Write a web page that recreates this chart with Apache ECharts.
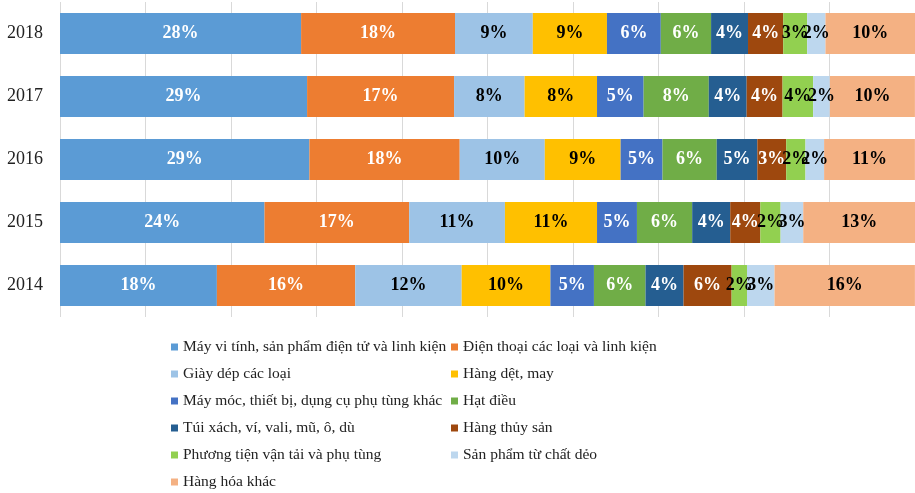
<!DOCTYPE html>
<html><head><meta charset="utf-8">
<script src="https://cdn.jsdelivr.net/npm/echarts@6/dist/echarts.min.js"></script>
<style>html,body{margin:0;padding:0;background:#fff}#c{width:915px;height:493px}</style>
</head><body><div id="c"></div>
<script>
const years = ['2014','2015','2016','2017','2018'];
const names = [
  'Máy vi tính, sản phẩm điện tử và linh kiện',
  'Điện thoại các loại và linh kiện',
  'Giày dép các loại',
  'Hàng dệt, may',
  'Máy móc, thiết bị, dụng cụ phụ tùng khác',
  'Hạt điều',
  'Túi xách, ví, vali, mũ, ô, dù',
  'Hàng thủy sản',
  'Phương tiện vận tải và phụ tùng',
  'Sản phẩm từ chất dẻo',
  'Hàng hóa khác'
];
const mayViTinh   = [18.35, 23.92, 29.17, 28.9, 28.2];
const dienThoai   = [16.18, 16.92, 17.58, 17.19, 18.0];
const giayDep     = [12.45, 11.2, 9.95, 8.25, 9.1];
const detMay      = [10.38, 10.77, 8.87, 8.47, 8.67];
const mayMoc      = [5.09, 4.67, 4.9, 5.45, 6.3];
const hatDieu     = [6.03, 6.46, 6.34, 7.62, 5.88];
const tuiXach     = [4.45, 4.45, 4.75, 4.43, 4.32];
const thuySan     = [5.62, 3.52, 3.38, 4.2, 4.12];
const phuongTien  = [1.8, 2.37, 2.25, 3.58, 2.8];
const chatDeo     = [3.22, 2.65, 2.18, 1.95, 2.14];
const hangKhac    = [16.42, 13.07, 10.62, 9.95, 10.47];

const seriesData = [mayViTinh, dienThoai, giayDep, detMay, mayMoc, hatDieu, tuiXach, thuySan, phuongTien, chatDeo, hangKhac];
const colors = ['#5B9BD5','#ED7D31','#9DC3E6','#FFC000','#4472C4','#70AD47','#255E91','#9E480E','#92D050','#BDD7EE','#F4B183'];
const labelColors = ['#fff','#fff','#000','#000','#fff','#fff','#fff','#fff','#000','#000','#000'];

const chart = echarts.init(document.getElementById('c'));
const legendCommon = {
  orient: 'vertical', icon: 'rect', itemWidth: 7, itemHeight: 7, itemGap: 11,
  top: 339, padding: 0, selectedMode: false,
  textStyle: {fontFamily: 'Liberation Serif', fontSize: 15.5, color: '#222', lineHeight: 16}
};
chart.setOption({
  animation: false,
  color: colors,
  legend: [
    Object.assign({}, legendCommon, {left: 171, data: names.filter((n,i)=>i%2===0)}),
    Object.assign({}, legendCommon, {left: 451, data: names.filter((n,i)=>i%2===1)})
  ],
  grid: {left: 60, top: 2, width: 857, height: 315, containLabel: false},
  xAxis: {
    type: 'value', min: 0, max: 100, interval: 10,
    axisLabel: {show: false}, axisLine: {show: false}, axisTick: {show: false},
    splitLine: {show: true, lineStyle: {color: '#d9d9d9', width: 1}}
  },
  yAxis: {
    type: 'category', data: years,
    axisLine: {show: false}, axisTick: {show: false},
    axisLabel: {fontFamily: 'Liberation Serif', fontSize: 18, color: '#222', margin: 17}
  },
  series: seriesData.map((d, i) => ({
    name: names[i], type: 'bar', stack: 'total', data: d,
    barCategoryGap: '35%',
    itemStyle: {color: colors[i]},
    label: {
      show: true, position: 'inside',
      formatter: p => Math.round(p.value) + '%',
      fontFamily: 'Liberation Serif', fontWeight: 'bold', fontSize: 18,
      color: labelColors[i], overflow: 'none'
    }
  }))
});
</script></body></html>
